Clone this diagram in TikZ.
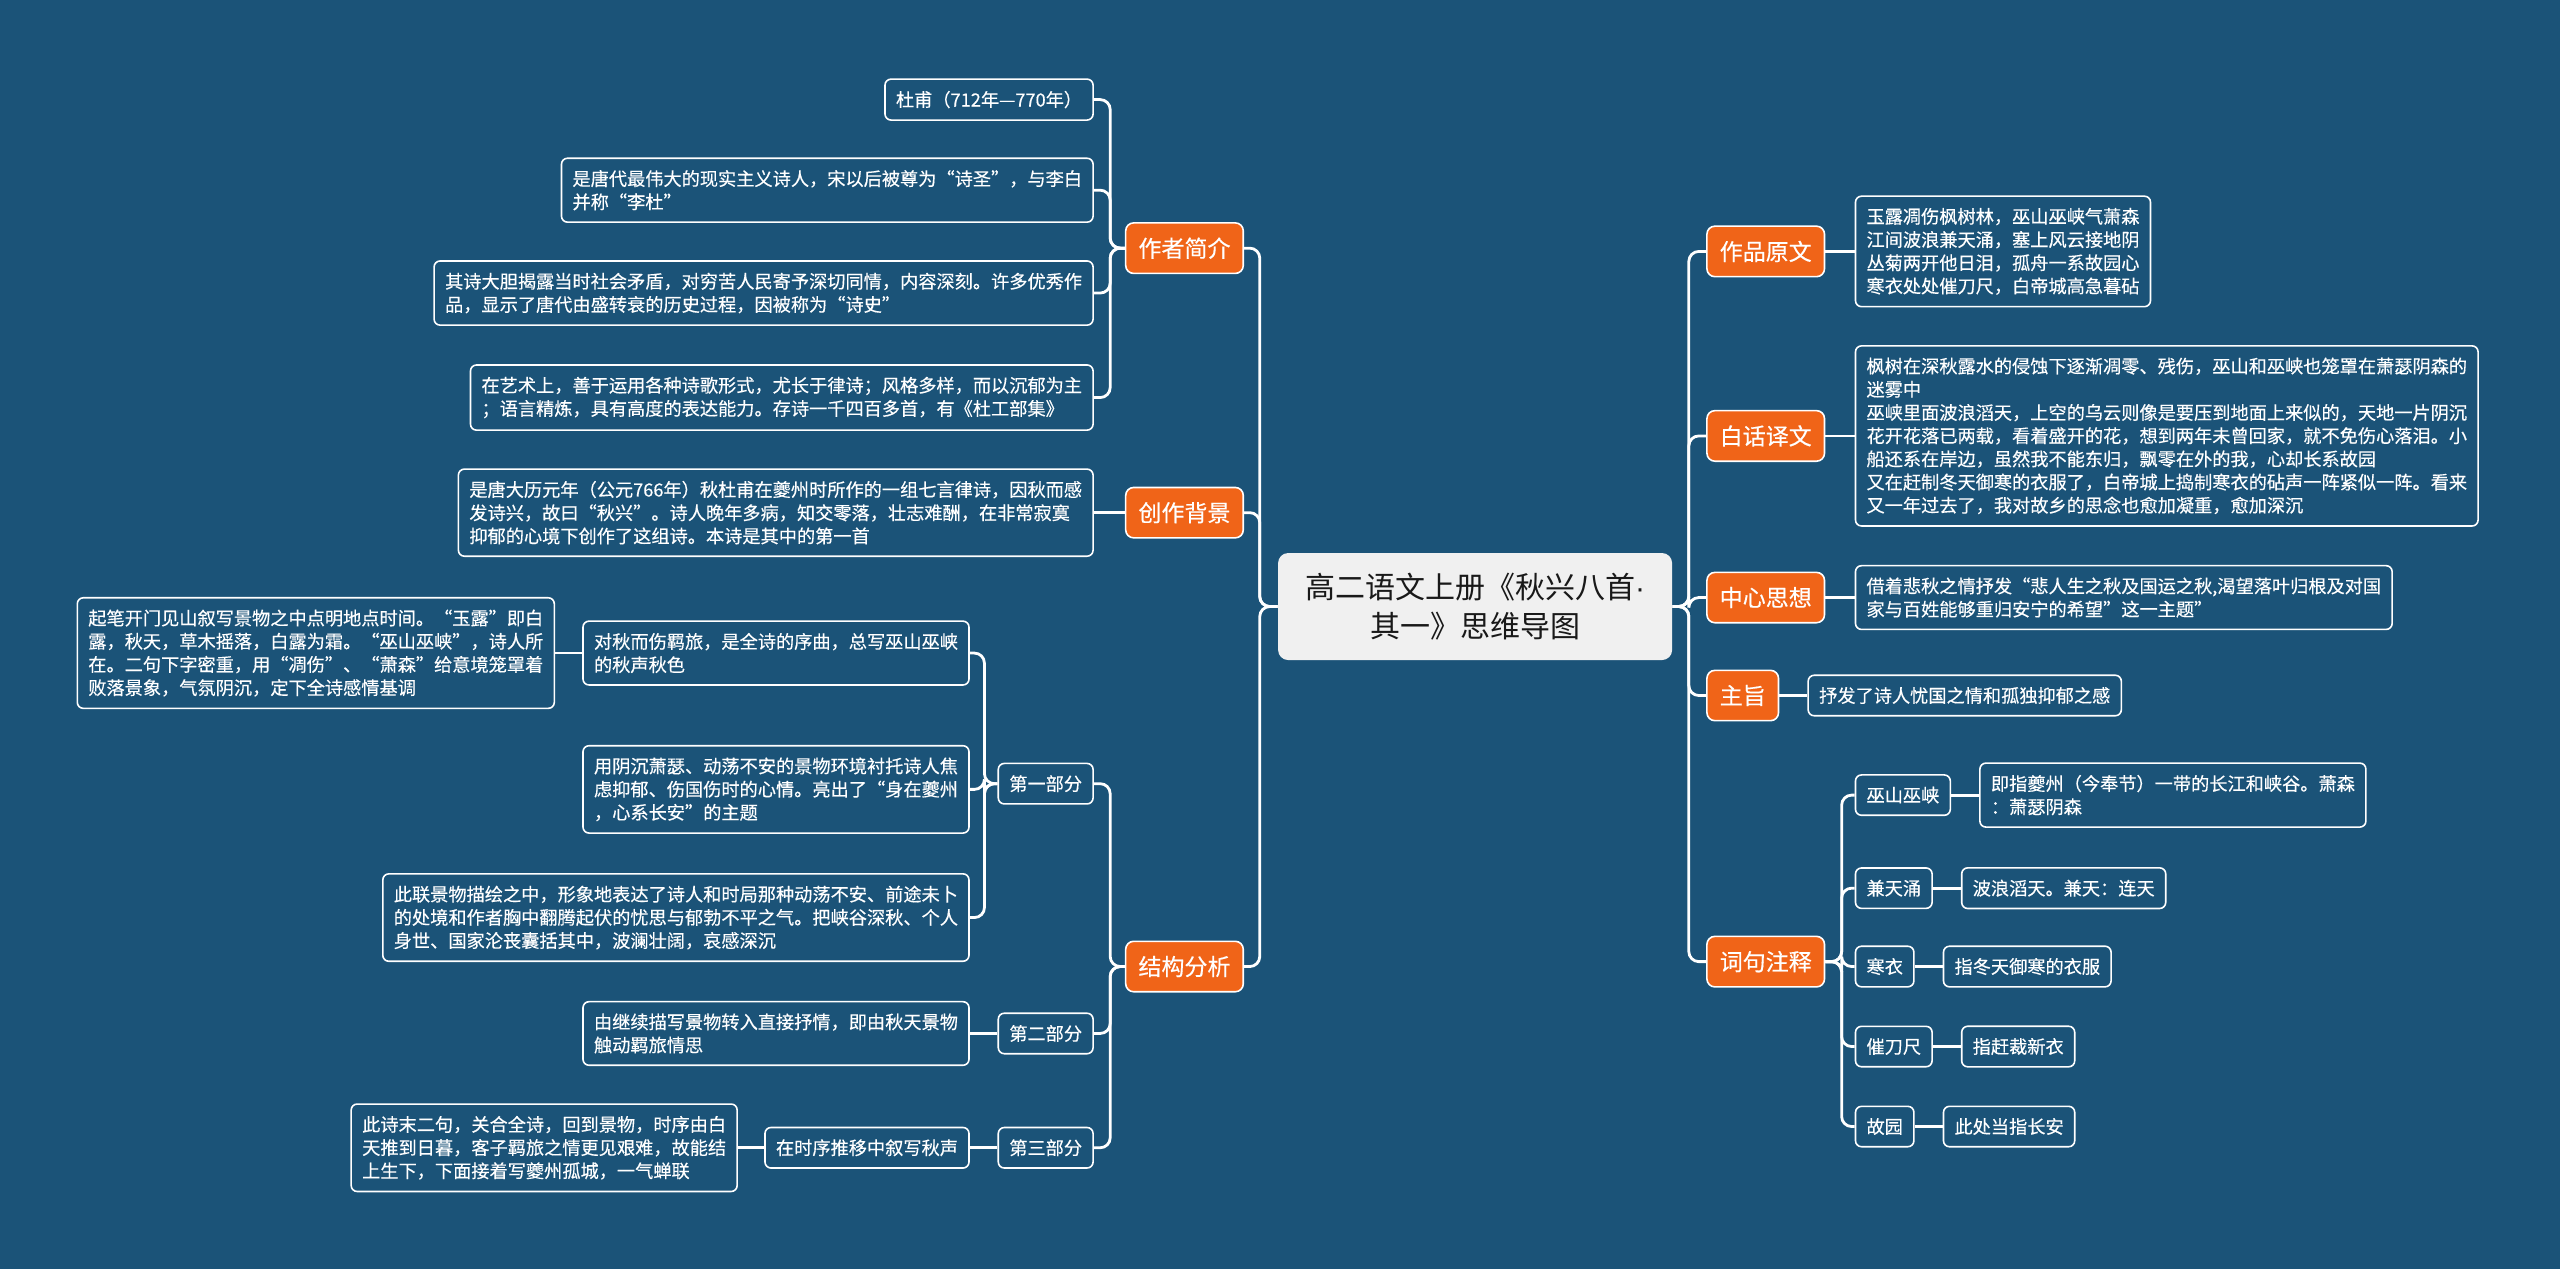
\documentclass[tikz,border=0pt]{standalone}
\usepackage{fontspec}
\setmainfont{Noto Sans CJK SC}
\newfontfamily\heavier{Noto Sans CJK SC}[FakeBold=0.35]
\newfontfamily\latinf{Liberation Sans}
\definecolor{bg}{RGB}{27,83,120}
\definecolor{orng}{RGB}{240,100,24}
\definecolor{ctr}{RGB}{240,240,240}
\definecolor{ctrtext}{RGB}{25,25,25}
\begin{document}
\begin{tikzpicture}[x=0.81635pt,y=-0.81635pt,
  txt/.style={draw=white, line width=0.8pt, rounded corners=3pt, fill=bg, text=white,
    align=left, inner xsep=5.5pt, inner ysep=5.9pt, font=\heavier\fontsize{9.1pt}{11.6pt}\selectfont},
  mainbox/.style={fill=orng, draw=white, line width=0.8pt, rounded corners=4pt, text=white,
    inner xsep=6.4pt, inner ysep=7.3pt, font=\heavier\fontsize{11.5pt}{14pt}\selectfont},
  rootbox/.style={fill=ctr, draw=none, rounded corners=5pt, text=ctrtext, align=center,
    inner xsep=13.5pt, inner ysep=10pt, font=\fontsize{15pt}{19.5pt}\selectfont},
  link/.style={draw=white, line width=1.4pt, rounded corners=5pt}
]
\fill[bg] (0,0) rectangle (1568,777);
\useasboundingbox (0,0) rectangle (1568,777);

% root
\node[rootbox] (root) at (903.5,371.5) {高二语文上册《秋兴八首{\latinf ·}\\其一》思维导图};

% ---------- left side ----------
\node[mainbox, anchor=east] (a1) at (762,152) {作者简介};
\node[mainbox, anchor=east] (a2) at (762,314) {创作背景};
\node[mainbox, anchor=east] (a3) at (762,592) {结构分析};

\node[txt, anchor=east] (a1c1) at (670,61) {杜甫（712年—770年）};
\node[txt, anchor=east] (a1c2) at (670,116.5) {是唐代最伟大的现实主义诗人，宋以后被尊为“诗圣”，与李白\\并称“李杜”};
\node[txt, anchor=east] (a1c3) at (670,179.5) {其诗大胆揭露当时社会矛盾，对穷苦人民寄予深切同情，内容深刻。许多优秀作\\品，显示了唐代由盛转衰的历史过程，因被称为“诗史”};
\node[txt, anchor=east] (a1c4) at (670,243.5) {在艺术上，善于运用各种诗歌形式，尤长于律诗；风格多样，而以沉郁为主\\；语言精炼，具有高度的表达能力。存诗一千四百多首，有《杜工部集》};

\node[txt, anchor=east] (a2c1) at (670,314) {是唐大历元年（公元766年）秋杜甫在夔州时所作的一组七言律诗，因秋而感\\发诗兴，故曰“秋兴”。诗人晚年多病，知交零落，壮志难酬，在非常寂寞\\抑郁的心境下创作了这组诗。本诗是其中的第一首};

\node[txt, anchor=east] (p1) at (670,480) {第一部分};
\node[txt, anchor=east] (p2) at (670,633) {第二部分};
\node[txt, anchor=east] (p3) at (670,703) {第三部分};

\node[txt, anchor=east] (p1a) at (594,400) {对秋而伤羁旅，是全诗的序曲，总写巫山巫峡\\的秋声秋色};
\node[txt, anchor=east] (p1a1) at (340,400) {起笔开门见山叙写景物之中点明地点时间。“玉露”即白\\露，秋天，草木摇落，白露为霜。“巫山巫峡”，诗人所\\在。二句下字密重，用“凋伤”、“萧森”给意境笼罩着\\败落景象，气氛阴沉，定下全诗感情基调};
\node[txt, anchor=east] (p1b) at (594,483.5) {用阴沉萧瑟、动荡不安的景物环境衬托诗人焦\\虑抑郁、伤国伤时的心情。亮出了“身在夔州\\，心系长安”的主题};
\node[txt, anchor=east] (p1c) at (594,562) {此联景物描绘之中，形象地表达了诗人和时局那种动荡不安、前途未卜\\的处境和作者胸中翻腾起伏的忧思与郁勃不平之气。把峡谷深秋、个人\\身世、国家沦丧囊括其中，波澜壮阔，哀感深沉};

\node[txt, anchor=east] (p2a) at (594,633) {由继续描写景物转入直接抒情，即由秋天景物\\触动羁旅情思};

\node[txt, anchor=east] (p3a) at (594,703) {在时序推移中叙写秋声};
\node[txt, anchor=east] (p3a1) at (452,703) {此诗末二句，关合全诗，回到景物，时序由白\\天推到日暮，客子羁旅之情更见艰难，故能结\\上生下，下面接着写夔州孤城，一气蝉联};

% ---------- right side ----------
\node[mainbox, anchor=west] (b1) at (1045,154) {作品原文};
\node[mainbox, anchor=west] (b2) at (1045,267) {白话译文};
\node[mainbox, anchor=west] (b3) at (1045,366) {中心思想};
\node[mainbox, anchor=west] (b4) at (1045,426) {主旨};
\node[mainbox, anchor=west] (b5) at (1045,589) {词句注释};

\node[txt, anchor=west] (b1c) at (1136,154) {玉露凋伤枫树林，巫山巫峡气萧森\\江间波浪兼天涌，塞上风云接地阴\\丛菊两开他日泪，孤舟一系故园心\\寒衣处处催刀尺，白帝城高急暮砧};
\node[txt, anchor=west] (b2c) at (1136,267) {枫树在深秋露水的侵蚀下逐渐凋零、残伤，巫山和巫峡也笼罩在萧瑟阴森的\\迷雾中\\巫峡里面波浪滔天，上空的乌云则像是要压到地面上来似的，天地一片阴沉\\花开花落已两载，看着盛开的花，想到两年未曾回家，就不免伤心落泪。小\\船还系在岸边，虽然我不能东归，飘零在外的我，心却长系故园\\又在赶制冬天御寒的衣服了，白帝城上捣制寒衣的砧声一阵紧似一阵。看来\\又一年过去了，我对故乡的思念也愈加凝重，愈加深沉};
\node[txt, anchor=west] (b3c) at (1136,366) {借着悲秋之情抒发“悲人生之秋及国运之秋,渴望落叶归根及对国\\家与百姓能够重归安宁的希望”这一主题”};
\node[txt, anchor=west] (b4c) at (1107,426) {抒发了诗人忧国之情和孤独抑郁之感};

\node[txt, anchor=west] (k1) at (1136,487) {巫山巫峡};
\node[txt, anchor=west] (k2) at (1136,544) {兼天涌};
\node[txt, anchor=west] (k3) at (1136,592) {寒衣};
\node[txt, anchor=west] (k4) at (1136,641) {催刀尺};
\node[txt, anchor=west] (k5) at (1136,690) {故园};

\node[txt, anchor=west] (k1a) at ([xshift=14pt]k1.east) {即指夔州（今奉节）一带的长江和峡谷。萧森\\：萧瑟阴森};
\node[txt, anchor=west] (k2a) at ([xshift=14pt]k2.east) {波浪滔天。兼天：连天};
\node[txt, anchor=west] (k3a) at ([xshift=14pt]k3.east) {指冬天御寒的衣服};
\node[txt, anchor=west] (k4a) at ([xshift=14pt]k4.east) {指赶裁新衣};
\node[txt, anchor=west] (k5a) at ([xshift=14pt]k5.east) {此处当指长安};

% ---------- connectors ----------
\foreach \n in {a1,a2,a3} \draw[link] (root.west) -- ++(-11,0) |- (\n.east);
\foreach \n in {b1,b2,b3,b4,b5} \draw[link] (root.east) -- ++(10,0) |- (\n.west);

\foreach \n in {a1c1,a1c2,a1c3,a1c4} \draw[link] (a1.west) -- ++(-9,0) |- (\n.east);
\draw[link] (a2.west) -- (a2c1.east);
\foreach \n in {p1,p2,p3} \draw[link] (a3.west) -- ++(-9,0) |- (\n.east);
\foreach \n in {p1a,p1b,p1c} \draw[link] (p1.west) -- ++(-8,0) |- (\n.east);
\draw[link] (p1a.west) -- (p1a1.east);
\draw[link] (p2.west) -- (p2a.east);
\draw[link] (p3.west) -- (p3a.east);
\draw[link] (p3a.west) -- (p3a1.east);

\draw[link] (b1.east) -- (b1c.west);
\draw[link] (b2.east) -- (b2c.west);
\draw[link] (b3.east) -- (b3c.west);
\draw[link] (b4.east) -- (b4c.west);
\foreach \n in {k1,k2,k3,k4,k5} \draw[link] (b5.east) -- ++(10,0) |- (\n.west);
\foreach \n in {k1,k2,k3,k4,k5} \draw[link] (\n.east) -- (\n a.west);
\end{tikzpicture}
\end{document}
